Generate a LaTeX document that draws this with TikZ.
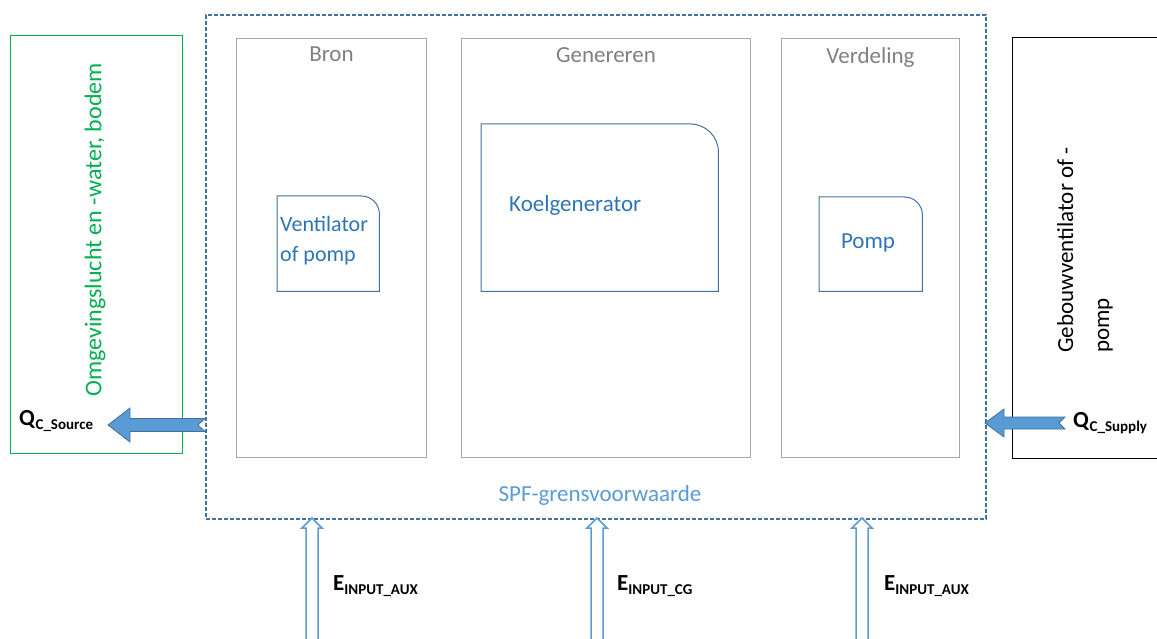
\documentclass[tikz,border=0pt]{standalone}
\usepackage{fontspec}
\setmainfont{Carlito}
\usetikzlibrary{positioning}
\definecolor{grensblauw}{RGB}{65,113,156}
\definecolor{lichtblauw}{RGB}{91,155,213}
\definecolor{tekstblauw}{RGB}{46,117,182}
\definecolor{groen}{RGB}{0,176,80}
\definecolor{kadergrijs}{RGB}{166,166,166}
\definecolor{titelgrijs}{RGB}{128,128,128}

\newcommand{\sub}[1]{\raisebox{-4pt}{\fontsize{15}{17}\selectfont\textbf{#1}}}
\newcommand{\hoekkader}[2]{\draw[eenheidlijn] (#1.south west) -- (#1.north west) -- ([xshift=-#2]#1.north east) arc[start angle=90,end angle=0,radius=#2] -- (#1.south east) -- cycle;}

\tikzset{
  fase/.style={draw=kadergrijs, line width=1pt, minimum width=#1, minimum height=419pt, anchor=north west, inner sep=0pt},
  titel/.style={text=titelgrijs, inner sep=0pt},
  eenheid/.style={anchor=north west, inner sep=0pt},
  eenheidlijn/.style={draw=grensblauw, line width=1pt},
  eenheidtxt/.style={text=tekstblauw, inner sep=0pt},
  dikpijl/.style={fill=lichtblauw, draw=grensblauw, line width=0.8pt},
  holpijl/.style={fill=white, draw=lichtblauw, line width=1.5pt}
}

\begin{document}
\begin{tikzpicture}[x=1pt,y=-1pt,every node/.style={font=\fontsize{23}{28}\selectfont}]
\useasboundingbox (0,0) rectangle (1157,639);

% omgeving
\node[draw=groen, line width=1pt, anchor=north west, inner sep=0pt, minimum width=172pt, minimum height=418pt] (omg) at (10,35) {};
\node[rotate=90, text=groen, font=\fontsize{24}{28}\selectfont] (omgtxt) at (95,230) {Omgevingslucht en -water, bodem};

% grens
\node[draw=grensblauw, line width=2pt, dash pattern=on 4pt off 2pt, anchor=north west, inner sep=0pt, minimum width=780pt, minimum height=504pt] (spf) at (205,14) {};
\node[text=lichtblauw] (spftxt) at (600,495) {SPF-grensvoorwaarde};

% fasen
\node[fase=190pt] (bron) at (236,38) {};
\node[fase=289pt] (gen) at (461,38) {};
\node[fase=178pt] (verd) at (781,38) {};
\node[titel, below=9pt of bron.north] (bronkop) {Bron};
\node[titel, below=9pt of gen.north] (genkop) {Genereren};
\node[titel, below=9pt of verd.north] (verdkop) {Verdeling};

% eenheden
\node[eenheid, minimum width=102pt, minimum height=95pt] (vent) at (277,196) {};
\hoekkader{vent}{18pt}
\node[eenheidtxt, anchor=west, align=left, font=\fontsize{22}{30}\selectfont] (venttxt) at (280,241) {Ventilator\\of pomp};
\node[eenheid, minimum width=237pt, minimum height=167pt] (koel) at (481,124) {};
\hoekkader{koel}{28pt}
\node[eenheidtxt, anchor=west] (koeltxt) at (509,205) {Koelgenerator};
\node[eenheid, minimum width=103pt, minimum height=94pt] (pomp) at (819,197) {};
\hoekkader{pomp}{18pt}
\node[eenheidtxt] (pomptxt) at (868,243) {Pomp};

% gebouw
\draw[line width=1pt] (1175,38) -| (1012,458) -- (1175,458);
\node[rotate=90, align=left, font=\fontsize{23}{36}\selectfont] (gebouw) at (1085,250) {Gebouwventilator of -\\pomp};

% stromen
\coordinate (srcpunt) at (108,425);
\filldraw[dikpijl] (srcpunt) -- ++(22,-17) -- ++(0,10.5) -- ++(75,0) -- ++(-7,6.5) -- ++(7,6.5) -- ++(-75,0) -- ++(0,10.5) -- cycle;
\node[anchor=west, inner sep=0pt] (qsrc) at (19,421) {\textbf{Q}\sub{C\_Source}};
\coordinate (suppunt) at (985,423);
\filldraw[dikpijl] (suppunt) -- ++(19,-14) -- ++(0,8) -- ++(61,0) -- ++(-6,6) -- ++(6,6) -- ++(-61,0) -- ++(0,8) -- cycle;
\node[anchor=west, inner sep=0pt] (qsup) at (1073,423) {\textbf{Q}\sub{C\_Supply}};

% invoer
\coordinate (aux1) at (312,518);
\coordinate (cg) at (597,518);
\coordinate (aux2) at (862,518);
\filldraw[holpijl] (aux1) -- ++(10,10) -- ++(-4,0) -- ++(0,120) -- ++(-12,0) -- ++(0,-120) -- ++(-4,0) -- cycle;
\filldraw[holpijl] (cg) -- ++(10,10) -- ++(-4,0) -- ++(0,120) -- ++(-12,0) -- ++(0,-120) -- ++(-4,0) -- cycle;
\filldraw[holpijl] (aux2) -- ++(10,10) -- ++(-4,0) -- ++(0,120) -- ++(-12,0) -- ++(0,-120) -- ++(-4,0) -- cycle;
\node[anchor=west, inner sep=0pt] (eaux1) at (333,586) {\textbf{E}\sub{INPUT\_AUX}};
\node[anchor=west, inner sep=0pt] (ecg) at (617,586) {\textbf{E}\sub{INPUT\_CG}};
\node[anchor=west, inner sep=0pt] (eaux2) at (884,586) {\textbf{E}\sub{INPUT\_AUX}};
\end{tikzpicture}
\end{document}
